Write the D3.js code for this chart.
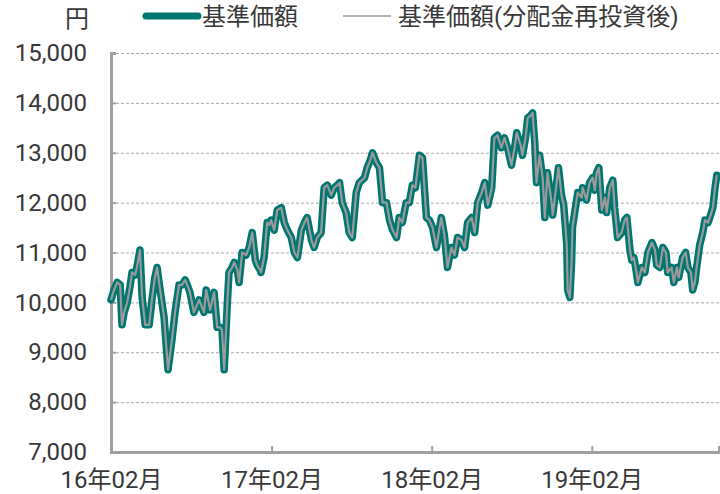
<!DOCTYPE html>
<html><head><meta charset="utf-8">
<script src="https://cdn.jsdelivr.net/npm/d3@7"></script>
<style>
html,body{margin:0;padding:0;background:#fff;}
svg text{font-family:Roboto,"Noto Sans CJK JP",sans-serif;fill:#383838;}
</style></head>
<body><svg id="c" width="720" height="494"></svg>
<script>
// ---- data ----
const startDate = "2016-02-01";
const dayOffsets = [0,7,14,21,25,30,37,43,48,55,59,66,71,78,87,94,100,105,112,121,130,139,146,155,162,169,176,180,189,201,212,217,226,235,242,249,253,258,265,269,276,281,288,292,299,308,315,322,329,333,340,342,349,356,361,365,372,379,388,395,402,411,418,425,434,441,447,457,463,470,479,486,493,502,509,516,521,527,536,543,550,559,566,578,584,591,596,605,612,619,628,635,642,651,657,664,673,680,687,694,703,710,719,726,733,742,749,753,760,767,776,783,790,799,806,813,822,829,836,845,852,859,868,874,881,890,897,904,913,920,925,934,938,945,950,957,961,966,970,977,984,989,995,1005,1007,1016,1020,1027,1032,1039,1041,1046,1050,1052,1057,1064,1073,1075,1084,1091,1098,1103,1107,1112,1119,1126,1130,1137,1144,1148,1155,1164,1171,1176,1183,1187,1192,1196,1201,1210,1217,1224,1233,1240,1244,1251,1258,1265,1269,1278,1283,1290,1294,1303,1310,1315,1322,1326,1331,1335,1342,1349,1354,1361,1365,1372,1377,1381];
const navValues = [10050,10250,10400,10350,9550,9800,10000,10300,10600,10550,10700,11050,10100,9550,9550,10100,10500,10700,10250,9700,8650,9250,9800,10350,10350,10450,10300,10200,9800,10050,9800,10250,9850,10200,9500,9500,9450,8650,9950,10600,10700,10800,10650,10400,11000,10950,11100,11400,10850,10750,10650,10600,10900,11600,11550,11650,11450,11850,11900,11600,11450,11300,11000,10900,11450,11600,11700,11250,11100,11300,11400,12300,12350,12150,12300,12350,12400,12000,11800,11400,11300,12200,12400,12500,12700,12850,13000,12800,12700,12000,12000,11650,11450,11300,11700,11600,12000,12000,12350,12300,12950,12900,11700,11650,11500,11100,11500,11700,11350,10700,11100,10950,11300,11250,11100,11600,11700,11400,12000,12200,12400,11950,12300,13300,13350,13100,13300,13100,12750,13100,13400,13150,12950,13300,13700,13750,13800,13200,12400,12950,12500,11700,12600,11950,11750,12400,12700,12150,11950,11150,10250,10100,10800,11500,11800,12200,12100,12300,12050,12400,12500,12250,12600,12700,11850,12100,11800,12300,12450,11900,11300,11400,11650,11700,11050,10850,10900,10700,10400,10700,10600,11000,11200,11050,10750,10700,11100,11000,10600,10700,10400,10700,10500,10900,11000,10700,10600,10250,10400,10700,11150,11400,11650,11600,11700,11900,12300,12550];
const reinvestValues = navValues.slice(); // no distributions: identical series
const yTicks = [7000,8000,9000,10000,11000,12000,13000,14000,15000];
const xTickDates = ["2016-02-01","2017-02-01","2018-02-01","2019-02-01"];
const endDayOffset = 1386;
const legendLabels = ["基準価額","基準価額(分配金再投資後)"];
const unitLabel = "円";

// ---- drawing ----
const parse = d3.timeParse("%Y-%m-%d");
const t0 = parse(startDate);
const addDays = (n) => d3.timeDay.offset(t0, n);
const nPts = Math.min(dayOffsets.length, navValues.length);
const series = dayOffsets.slice(0,nPts).map((d,i)=>({date:addDays(d), nav:navValues[i], re:reinvestValues[i]}));

const svg = d3.select("#c");
const pL = 111, pR = 719, pT = 53, pB = 452;
const FS = 24;
const x = d3.scaleTime().domain([t0, addDays(endDayOffset)]).range([pL, pR]);
const y = d3.scaleLinear().domain([7000,15000]).range([pB, pT]);

// gridlines
svg.append("g").selectAll("line").data(yTicks.slice(1)).join("line")
  .attr("x1", pL).attr("x2", pR)
  .attr("y1", d=>y(d)+0.5).attr("y2", d=>y(d)+0.5)
  .attr("stroke","#aaa").attr("stroke-width",1).attr("stroke-dasharray","3,2");

// y axis
const yAxis = svg.append("g").attr("transform",`translate(${pL},0)`)
  .call(d3.axisLeft(y).tickValues(yTicks).tickFormat(d3.format(",")).tickSize(-5).tickPadding(24));
yAxis.select(".domain").attr("stroke","#a0a0a0").attr("stroke-width",3);
yAxis.selectAll(".tick line").attr("stroke","#a0a0a0").attr("stroke-width",2);
yAxis.selectAll("text").attr("font-size",FS).attr("fill","#383838");

// x axis
const xAxis = svg.append("g").attr("transform",`translate(0,${pB})`)
  .call(d3.axisBottom(x).tickValues(xTickDates.map(parse)).tickFormat(d3.timeFormat("%y年%m月")).tickSize(-6).tickPadding(19));
xAxis.select(".domain").attr("stroke","#a0a0a0").attr("stroke-width",3);
xAxis.selectAll(".tick line").attr("stroke","#a0a0a0").attr("stroke-width",2);
xAxis.selectAll("text").attr("font-size",FS).attr("fill","#383838").attr("dy","0.71em");

// lines
const lineNav = d3.line().x(d=>x(d.date)).y(d=>y(d.nav));
const lineRe = d3.line().x(d=>x(d.date)).y(d=>y(d.re));
svg.append("path").datum(series).attr("d",lineNav)
  .attr("fill","none").attr("stroke","#007670").attr("stroke-width",7.5)
  .attr("stroke-linejoin","round").attr("stroke-linecap","round");
svg.append("path").datum(series).attr("d",lineRe)
  .attr("fill","none").attr("stroke","#9a9a9a").attr("stroke-width",2.2)
  .attr("stroke-linejoin","round");

// unit
svg.append("text").attr("x",77).attr("y",27).attr("text-anchor","middle").attr("font-size",FS).text(unitLabel);

// legend
const lg = svg.append("g");
lg.append("line").attr("x1",146).attr("x2",198).attr("y1",16).attr("y2",16)
  .attr("stroke","#007670").attr("stroke-width",7).attr("stroke-linecap","round");
lg.append("text").attr("x",202).attr("y",25).attr("font-size",FS).text(legendLabels[0]);
lg.append("line").attr("x1",343).attr("x2",391).attr("y1",16).attr("y2",16)
  .attr("stroke","#9a9a9a").attr("stroke-width",1.5);
lg.append("text").attr("x",398).attr("y",25).attr("font-size",FS).text(legendLabels[1]);
</script></body></html>
